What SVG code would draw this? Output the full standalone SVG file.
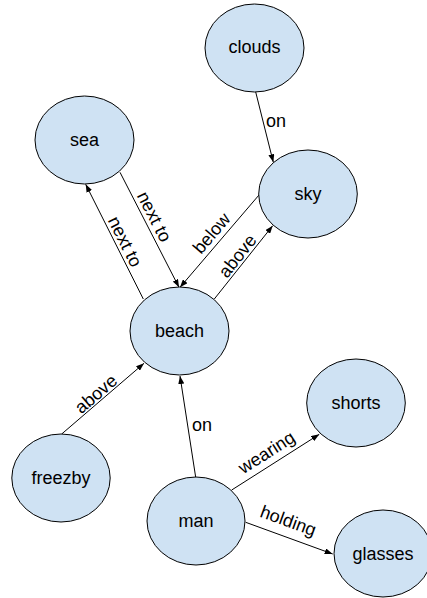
<svg xmlns="http://www.w3.org/2000/svg" width="427" height="598" viewBox="0 0 427 598">
  <defs>
    <marker id="arrow" markerWidth="8" markerHeight="6" refX="8" refY="3" orient="auto" markerUnits="userSpaceOnUse">
      <path d="M0,0 L8,3 L0,6 z" fill="#000"/>
    </marker>
    <style>
      .node ellipse { fill: #cfe2f3; stroke: #000; stroke-width: 1; }
      .node text { font-family: "Liberation Sans", Arial, sans-serif; font-size: 18px; fill: #000; text-anchor: middle; dominant-baseline: central; }
      .edge line { stroke: #000; stroke-width: 1; marker-end: url(#arrow); }
      .edge text { font-family: "Liberation Sans", Arial, sans-serif; font-size: 18px; fill: #000; text-anchor: middle; dominant-baseline: central; }
    </style>
  </defs>
  <rect width="427" height="598" fill="#fff"/>

  <g id="connectors">
    <g class="edge" id="clouds-sky">
      <line x1="255.7" y1="92" x2="273.3" y2="162.3"/>
      <text x="276" y="121">on</text>
    </g>
    <g class="edge" id="sea-beach">
      <line x1="120" y1="172.3" x2="179" y2="287.3"/>
      <text transform="translate(154.2,216.7) rotate(62.8)">next to</text>
    </g>
    <g class="edge" id="beach-sea">
      <line x1="143.3" y1="299" x2="85.7" y2="184.3"/>
      <text transform="translate(125,241.7) rotate(63.3)">next to</text>
    </g>
    <g class="edge" id="sky-beach">
      <line x1="259" y1="195" x2="180" y2="287.3"/>
      <text transform="translate(211.7,233.3) rotate(-49.4)">below</text>
    </g>
    <g class="edge" id="beach-sky">
      <line x1="214.3" y1="299" x2="272.7" y2="225.7"/>
      <text transform="translate(237.5,256) rotate(-51.5)">above</text>
    </g>
    <g class="edge" id="freezby-beach">
      <line x1="61.7" y1="434" x2="144" y2="363.3"/>
      <text transform="translate(96,394) rotate(-40.7)">above</text>
    </g>
    <g class="edge" id="man-beach">
      <line x1="195.7" y1="477.3" x2="180" y2="376"/>
      <text x="202" y="425">on</text>
    </g>
    <g class="edge" id="man-shorts">
      <line x1="231.7" y1="490" x2="319.3" y2="434.3"/>
      <text transform="translate(266.7,452.5) rotate(-32.5)">wearing</text>
    </g>
    <g class="edge" id="man-glasses">
      <line x1="245.7" y1="522.3" x2="332.7" y2="554"/>
      <text transform="translate(288.3,520.8) rotate(20)">holding</text>
    </g>
  </g>

  <g class="node" id="clouds">
    <ellipse cx="254.5" cy="48" rx="49.5" ry="44"/>
    <text x="254.5" y="47">clouds</text>
  </g>
  <g class="node" id="sea">
    <ellipse cx="84.5" cy="140" rx="49.5" ry="44"/>
    <text x="84.5" y="140">sea</text>
  </g>
  <g class="node" id="sky">
    <ellipse cx="308" cy="194" rx="49.3" ry="44"/>
    <text x="308" y="194">sky</text>
  </g>
  <g class="node" id="beach">
    <ellipse cx="179.5" cy="331" rx="49.5" ry="44"/>
    <text x="179.5" y="331">beach</text>
  </g>
  <g class="node" id="shorts">
    <ellipse cx="356" cy="403" rx="49.3" ry="44"/>
    <text x="356" y="403">shorts</text>
  </g>
  <g class="node" id="freezby">
    <ellipse cx="61" cy="478" rx="49.2" ry="44"/>
    <text x="61" y="478">freezby</text>
  </g>
  <g class="node" id="man">
    <ellipse cx="196" cy="521" rx="49" ry="44"/>
    <text x="196" y="521">man</text>
  </g>
  <g class="node" id="glasses">
    <ellipse cx="383" cy="553.5" rx="49" ry="43.5"/>
    <text x="383" y="553.5">glasses</text>
  </g>
</svg>
